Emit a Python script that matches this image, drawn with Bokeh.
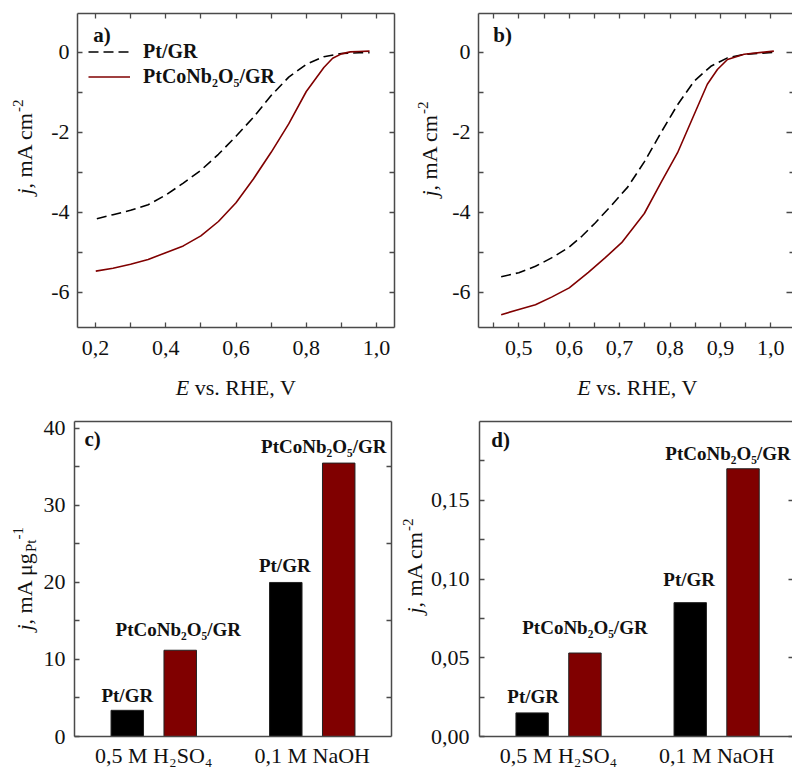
import math
from bokeh.plotting import figure
from bokeh.models import FixedTicker, LinearAxis, Range1d, Label, Legend, LegendItem
from bokeh.layouts import row, column
from bokeh.embed import file_html
from bokeh.resources import INLINE

# ---------------- data ----------------
# panel a) 0,5 M H2SO4 polarization curves
E_a_ptgr = [0.204, 0.25, 0.30, 0.35, 0.40, 0.45, 0.50, 0.55, 0.60, 0.65, 0.70,
            0.75, 0.80, 0.85, 0.90, 0.95, 0.98]
j_a_ptgr = [-4.16, -4.06, -3.95, -3.81, -3.57, -3.27, -2.95, -2.55, -2.10, -1.62, -1.08,
            -0.62, -0.30, -0.11, -0.03, -0.01, -0.01]
E_a_ptco = [0.201, 0.25, 0.30, 0.35, 0.40, 0.45, 0.50, 0.55, 0.60, 0.65, 0.70,
            0.75, 0.80, 0.85, 0.875, 0.90, 0.925, 0.95, 0.98]
j_a_ptco = [-5.47, -5.40, -5.30, -5.18, -5.01, -4.84, -4.59, -4.23, -3.76, -3.16, -2.50,
            -1.79, -0.98, -0.38, -0.15, -0.04, 0.01, 0.02, 0.03]
# panel b) 0,1 M NaOH polarization curves
E_b_ptgr = [0.465, 0.50, 0.533, 0.565, 0.60, 0.625, 0.652, 0.685, 0.716, 0.749,
            0.782, 0.815, 0.848, 0.881, 0.914, 0.947, 1.006]
j_b_ptgr = [-5.61, -5.51, -5.35, -5.14, -4.87, -4.60, -4.26, -3.81, -3.37, -2.74,
            -2.01, -1.31, -0.72, -0.35, -0.14, -0.05, 0.0]
E_b_ptco = [0.465, 0.50, 0.533, 0.565, 0.60, 0.638, 0.671, 0.704, 0.749, 0.782,
            0.815, 0.835, 0.855, 0.874, 0.894, 0.914, 0.947, 1.006]
j_b_ptco = [-6.56, -6.43, -6.31, -6.12, -5.89, -5.50, -5.14, -4.76, -4.03, -3.26,
            -2.51, -1.93, -1.35, -0.80, -0.43, -0.18, -0.05, 0.03]
# panels c) and d) bar charts
solutions = ["0,5 M H\u2082SO\u2084", "0,1 M NaOH"]
catalysts = ["Pt/GR", "PtCoNb\u2082O\u2085/GR"]
mass_ptgr = [3.4, 20.0]
mass_ptco = [11.2, 35.5]
spec_ptgr = [0.015, 0.085]
spec_ptco = [0.053, 0.170]

# ticks and tick labels
ticks_E_a = [0.2, 0.4, 0.6, 0.8, 1.0]
labels_E_a = ["0,2", "0,4", "0,6", "0,8", "1,0"]
minor_E_a = [0.3, 0.5, 0.7, 0.9]
ticks_E_b = [0.5, 0.6, 0.7, 0.8, 0.9, 1.0]
labels_E_b = ["0,5", "0,6", "0,7", "0,8", "0,9", "1,0"]
minor_E_b = [0.45, 0.55, 0.65, 0.75, 0.85, 0.95]
ticks_j = [0, -2, -4, -6]
labels_j = ["0", "-2", "-4", "-6"]
minor_j = [-1, -3, -5]
ticks_mass = [0, 10, 20, 30, 40]
labels_mass = ["0", "10", "20", "30", "40"]
minor_mass = [5, 15, 25, 35]
ticks_spec = [0.0, 0.05, 0.10, 0.15]
labels_spec = ["0,00", "0,05", "0,10", "0,15"]
minor_spec = [0.025, 0.075, 0.125, 0.175]
ticks_sol = [1, 2]

# ---------------- styling ----------------
FONT = "Liberation Serif"
AX = "#4a4a4a"
TXT = "#111111"
RED = "#800000"
TICK_PX = 22
BL = 7  # text anchor correction (px)

# plot box geometry in page pixels: left, right, top, bottom, x0, x1, y0, y1
FR_A = (77, 394, 13, 327, 0.149, 1.051, -6.88, 0.97)
FR_B = (478, 792, 13, 327, 0.42, 1.043, -6.88, 0.97)
FR_C = (74, 391, 421, 736, 0.5, 2.5, 0.0, 40.9)
FR_D = (479, 792, 421, 736, 0.5, 2.48, 0.0, 0.2)
# figure rectangles in page pixels: left, right, top, bottom
PG_A = (0, 400, 0, 400)
PG_B = (400, 792, 0, 400)
PG_C = (0, 400, 400, 767)
PG_D = (400, 792, 400, 767)

WID = {' ': 250, ',': 250, '.': 250, '-': 333, '/': 278, ')': 333,
       'A': 722, 'C': 667, 'E': 611, 'G': 722, 'H': 722, 'M': 889, 'N': 722, 'O': 722,
       'P': 556, 'R': 667, 'S': 556, 'V': 722, 'a': 444, 'b': 500, 'c': 444, 'g': 500,
       'j': 278, 'm': 778, 'o': 500, 's': 389, 't': 278, 'v': 500, '\u03bc': 540}


def text_w(s, size):
    return sum(WID.get(ch, 500) for ch in s) * size / 1000.0


def to_data(fr, px, py):
    l, r, t, b, x0, x1, y0, y1 = fr
    return (x0 + (px - l) / (r - l) * (x1 - x0), y0 + (b - py) / (b - t) * (y1 - y0))


def make_fig(fr, pg):
    fx0, fx1, fy0, fy1 = pg
    xs, ys = to_data(fr, fx0, fy1)
    xe, ye = to_data(fr, fx1, fy0)
    p = figure(width=fx1 - fx0, height=fy1 - fy0, x_range=Range1d(xs, xe), y_range=Range1d(ys, ye),
               min_border_left=0, min_border_right=0, min_border_top=0, min_border_bottom=0,
               x_axis_location=None, y_axis_location=None,
               output_backend="svg", toolbar_location=None,
               background_fill_color="white", border_fill_color="white",
               outline_line_color=None)
    p.xgrid.visible = False
    p.ygrid.visible = False
    return p


def add_axis(p, fr, side, ticks, minor, labels, standoff, tick_in=5, minor_in=5,
             line=True, show_labels=True):
    l, r, t, b, x0, x1, y0, y1 = fr
    loc = {"below": y0, "above": y1, "left": x0, "right": x1}[side]
    bounds = (x0, x1) if side in ("below", "above") else (y0, y1)
    ax = LinearAxis(fixed_location=loc, bounds=bounds)
    ax.ticker = FixedTicker(ticks=ticks, minor_ticks=minor)
    ax.major_label_overrides = {tk: s for tk, s in zip(ticks, labels)}
    ax.major_tick_in = tick_in
    ax.major_tick_out = 0
    ax.minor_tick_in = minor_in
    ax.minor_tick_out = 0
    ax.major_tick_line_color = AX if tick_in > 0 else None
    ax.minor_tick_line_color = AX if minor_in > 0 else None
    ax.major_tick_line_width = 1.3
    ax.minor_tick_line_width = 1.3
    ax.axis_line_color = AX if line else None
    ax.axis_line_width = 1.5
    ax.major_label_text_font = FONT
    ax.major_label_text_font_size = f"{TICK_PX}px"
    ax.major_label_text_color = TXT if show_labels else None
    ax.major_label_standoff = standoff
    p.add_layout(ax, side)


def add_pieces(p, fr, px, py, pieces, vertical=False):
    """pieces: (text, size, style, shift_px); shift > 0 means raised."""
    pos = py if vertical else px
    for text, size, style, shift in pieces:
        lead = len(text) - len(text.lstrip(' '))
        adv = text_w(' ' * lead, size)
        pos = pos - adv if vertical else pos + adv
        body = text.strip(' ')
        if vertical:
            x, y = to_data(fr, px - shift - BL, pos)
            ang = math.pi / 2
        else:
            x, y = to_data(fr, pos, py - shift - BL)
            ang = 0.0
        p.add_layout(Label(x=x, y=y, text=body, angle=ang, text_align="left",
                           text_baseline="alphabetic", text_font=FONT,
                           text_font_size=f"{size}px", text_font_style=style,
                           text_color=TXT))
        w = text_w(body, size)
        pos = pos - w if vertical else pos + w


def panel_tag(p, fr, px, py, text):
    x, y = to_data(fr, px, py - BL)
    p.add_layout(Label(x=x, y=y, text=text, text_align="left", text_baseline="alphabetic",
                       text_font=FONT, text_font_size="21px", text_font_style="bold",
                       text_color=TXT))


def e_label(p, fr, cx, base):
    pieces = [("E", 22, "italic", 0), (" vs. RHE, V", 22, "normal", 0)]
    total = sum(text_w(t, s) for t, s, _, _ in pieces)
    add_pieces(p, fr, cx - total / 2, base, pieces)


def curve_panel(p, E1, j1, E2, j2):
    r1 = p.line(E1, j1, line_color="black", line_width=1.6, line_dash="10 5")
    r2 = p.line(E2, j2, line_color=RED, line_width=1.6)
    return r1, r2


# ---------------- panel a ----------------
pa = make_fig(FR_A, PG_A)
ra1, ra2 = curve_panel(pa, E_a_ptgr, j_a_ptgr, E_a_ptco, j_a_ptco)
add_axis(pa, FR_A, "below", ticks_E_a, minor_E_a, labels_E_a, 13)
add_axis(pa, FR_A, "left", ticks_j, minor_j, labels_j, 8)
add_axis(pa, FR_A, "above", ticks_E_a, minor_E_a, labels_E_a, 0, show_labels=False)
add_axis(pa, FR_A, "right", ticks_j, minor_j, labels_j, 0, show_labels=False)
legend = Legend(items=[LegendItem(label=catalysts[0], renderers=[ra1]),
                       LegendItem(label=catalysts[1], renderers=[ra2])],
                location=(88, 312), orientation="vertical",
                label_text_font=FONT, label_text_font_style="bold", label_text_font_size="20px",
                label_text_color=TXT, glyph_width=42, glyph_height=23, label_height=23,
                label_standoff=13, spacing=2, padding=0, margin=0,
                border_line_color=None, background_fill_alpha=0)
pa.add_layout(legend)
panel_tag(pa, FR_A, 92.7, 41.5, "a)")
e_label(pa, FR_A, 235.5, 394)
add_pieces(pa, FR_A, 31, 194, [("j", 22, "italic", 0), (", mA cm", 22, "normal", 0),
                               ("-2", 15, "normal", 7)], vertical=True)

# ---------------- panel b ----------------
pb = make_fig(FR_B, PG_B)
curve_panel(pb, E_b_ptgr, j_b_ptgr, E_b_ptco, j_b_ptco)
add_axis(pb, FR_B, "below", ticks_E_b, minor_E_b, labels_E_b, 13)
add_axis(pb, FR_B, "left", ticks_j, minor_j, labels_j, 8)
add_axis(pb, FR_B, "above", ticks_E_b, minor_E_b, labels_E_b, 0, show_labels=False)
add_axis(pb, FR_B, "right", ticks_j, minor_j, labels_j, 0, tick_in=6, minor_in=3,
         line=False, show_labels=False)
panel_tag(pb, FR_B, 492.7, 41.5, "b)")
e_label(pb, FR_B, 637, 394)
add_pieces(pb, FR_B, 436, 196, [("j", 22, "italic", 0), (", mA cm", 22, "normal", 0),
                                ("-2", 15, "normal", 7)], vertical=True)


# ---------------- bar panels ----------------
def bar_panel(p, v_black, v_red, offsets):
    xb = [i + 1 - 0.167 for i in range(len(solutions))]
    xr = [i + 1 + 0.167 for i in range(len(solutions))]
    p.vbar(x=xb, top=v_black, width=0.205, fill_color="black", line_color="#222222", line_width=1)
    p.vbar(x=xr, top=v_red, width=0.205, fill_color=RED, line_color="#222222", line_width=1)
    k = 0
    for i in range(len(solutions)):
        for xs, vs, name in ((xb, v_black, catalysts[0]), (xr, v_red, catalysts[1])):
            dx, dy = offsets[k]
            k += 1
            p.add_layout(Label(x=xs[i], y=vs[i], x_offset=dx, y_offset=dy + 6, text=name,
                               text_align="center", text_baseline="alphabetic",
                               text_font=FONT, text_font_size="19px", text_font_style="bold",
                               text_color=TXT))


pc = make_fig(FR_C, PG_C)
bar_panel(pc, mass_ptgr, mass_ptco, [(0, 9), (-2, 15), (-1, 11), (-15, 11)])
add_axis(pc, FR_C, "below", ticks_sol, [], solutions, 6, tick_in=0, minor_in=0)
add_axis(pc, FR_C, "left", ticks_mass, minor_mass, labels_mass, 9)
add_axis(pc, FR_C, "above", ticks_mass, [], labels_mass, 0, tick_in=0, minor_in=0,
         show_labels=False)
add_axis(pc, FR_C, "right", ticks_mass, minor_mass, labels_mass, 0, tick_in=0, minor_in=5,
         show_labels=False)
panel_tag(pc, FR_C, 84, 445, "c)")
add_pieces(pc, FR_C, 31, 630, [("j", 22, "italic", 0), (", mA \u03bcg", 22, "normal", 0),
                               ("Pt", 15, "normal", -6), ("-1", 15, "normal", 7)], vertical=True)

pd_ = make_fig(FR_D, PG_D)
bar_panel(pd_, spec_ptgr, spec_ptco, [(1, 10), (0, 20), (-1, 17), (-15, 9)])
add_axis(pd_, FR_D, "below", ticks_sol, [], solutions, 6, tick_in=0, minor_in=0)
add_axis(pd_, FR_D, "left", ticks_spec, minor_spec, labels_spec, 10)
add_axis(pd_, FR_D, "above", ticks_spec, [], labels_spec, 0, tick_in=0, minor_in=0,
         show_labels=False)
add_axis(pd_, FR_D, "right", ticks_spec, minor_spec, labels_spec, 0, tick_in=4, minor_in=0,
         line=False, show_labels=False)
panel_tag(pd_, FR_D, 490.7, 446, "d)")
add_pieces(pd_, FR_D, 421, 613, [("j", 22, "italic", 0), (", mA cm", 22, "normal", 0),
                                 ("-2", 15, "normal", 7)], vertical=True)

layout = column(row(pa, pb), row(pc, pd_))
open("out.html", "w").write(file_html(layout, INLINE))
